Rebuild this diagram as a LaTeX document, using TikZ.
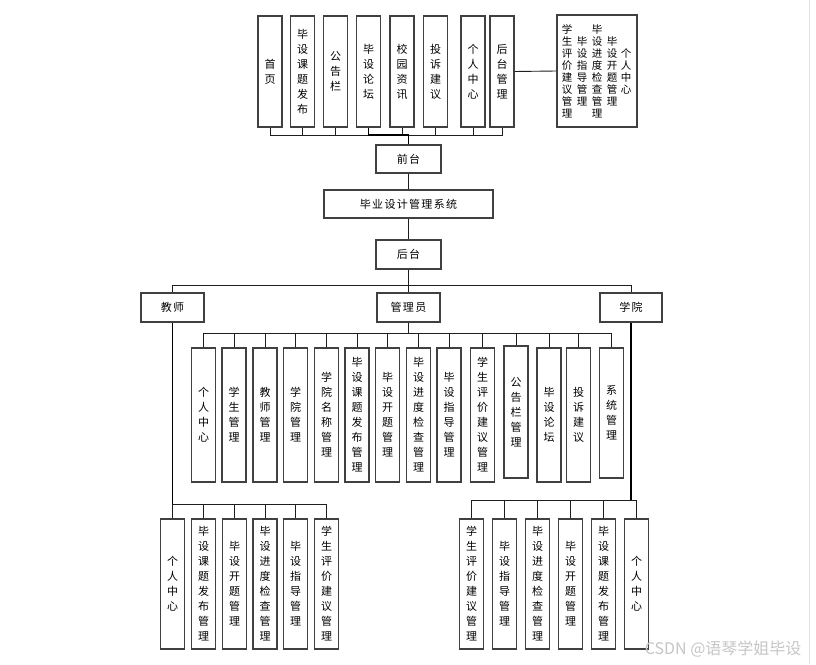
\documentclass[tikz,border=0pt]{standalone}
\usepackage{fontspec}
\setmainfont{Noto Sans CJK SC}
\usepackage{tikz}
\usetikzlibrary{positioning, calc}
\definecolor{boxLine}{HTML}{404040}
\definecolor{linkLine}{HTML}{1E1E1E}
\definecolor{markGray}{HTML}{C6C6C6}
\definecolor{edgeGray}{HTML}{E2E2E2}

\begin{document}
\begin{tikzpicture}[x=1pt, y=-1pt,
    box/.style={draw=boxLine, fill=white, line width=1.1pt, inner sep=0pt, minimum width=24pt},
    hbox/.style={box, minimum height=29pt, font=\fontsize{11}{13}\selectfont\addfontfeature{LetterSpace=12}},
    vbox/.style={box, align=center, font=\fontsize{11}{15}\selectfont},
    topbox/.style={vbox, minimum height=111pt},
    midbox/.style={vbox, minimum height=134pt},
    lowbox/.style={vbox, minimum height=130pt},
    subcol/.style={align=center, inner sep=0pt, font=\fontsize{10.5}{12}\selectfont},
    link/.style={draw=linkLine, line width=0.9pt},
    trunk/.style={draw=black, line width=1.6pt}]
  \fill[white] (0,0) rectangle (816,664);
  \useasboundingbox (0,0) rectangle (816,664);
  \draw[edgeGray, line width=0.8pt] (809,0) -- (809,664);

  % front end pages
  \node[topbox] (fHome) at (270, 71.5) {首\\页};
  \node[topbox] (fTopic) at (302.5, 71.5) {毕\\设\\课\\题\\发\\布};
  \node[topbox] (fNotice) at (335.5, 71.5) {公\\告\\栏};
  \node[topbox] (fForum) at (368.5, 71.5) {毕\\设\\论\\坛};
  \node[topbox] (fNews) at (402, 71.5) {校\\园\\资\\讯};
  \node[topbox] (fComplain) at (435.5, 71.5) {投\\诉\\建\\议};
  \node[topbox] (fUser) at (473, 71.5) {个\\人\\中\\心};
  \node[topbox] (fBack) at (502, 71.5) {后\\台\\管\\理};
  \node[box, minimum width=80pt, minimum height=112pt] (fBackSub) at (597, 71) {};
  \node[subcol] (sEval) at ([xshift=-30pt]fBackSub.center) {学\\生\\评\\价\\建\\议\\管\\理};
  \node[subcol] (sGuide) at ([xshift=-15pt]fBackSub.center) {毕\\设\\指\\导\\管\\理};
  \node[subcol] (sProgress) at (fBackSub.center) {毕\\设\\进\\度\\检\\查\\管\\理};
  \node[subcol] (sOpen) at ([xshift=15pt]fBackSub.center) {毕\\设\\开\\题\\管\\理};
  \node[subcol] (sUser) at ([xshift=29pt]fBackSub.center) {个\\人\\中\\心};

  % system core
  \node[hbox, minimum width=65pt, minimum height=28pt] (front) at (408.5, 159) {前台};
  \node[hbox, minimum width=169pt, minimum height=28pt] (sys) at (408.5, 204) {毕业设计管理系统};
  \node[hbox, minimum width=65pt] (back) at (408.5, 254.5) {后台};
  \node[hbox, minimum width=63pt] (teacher) at (172.5, 307.5) {教师};
  \node[hbox, minimum width=63pt] (admin) at (408.5, 307.5) {管理员};
  \node[hbox, minimum width=62pt] (college) at (631, 307.5) {学院};

  % admin modules
  \node[midbox] (aUser) at (203.5, 415) {个\\人\\中\\心};
  \node[midbox] (aStudent) at (234, 415) {学\\生\\管\\理};
  \node[midbox] (aTeacher) at (265, 415) {教\\师\\管\\理};
  \node[midbox] (aCollege) at (295.5, 415) {学\\院\\管\\理};
  \node[midbox] (aCollegeName) at (326.5, 415) {学\\院\\名\\称\\管\\理};
  \node[midbox] (aTopic) at (357, 415) {毕\\设\\课\\题\\发\\布\\管\\理};
  \node[midbox] (aOpen) at (387.5, 415) {毕\\设\\开\\题\\管\\理};
  \node[midbox] (aProgress) at (418.5, 415) {毕\\设\\进\\度\\检\\查\\管\\理};
  \node[midbox] (aGuide) at (449, 415) {毕\\设\\指\\导\\管\\理};
  \node[midbox] (aEval) at (482.5, 415) {学\\生\\评\\价\\建\\议\\管\\理};
  \node[vbox, minimum height=132pt] (aNotice) at (516, 412) {公\\告\\栏\\管\\理};
  \node[midbox] (aForum) at (549, 415) {毕\\设\\论\\坛};
  \node[midbox] (aComplain) at (578.5, 415) {投\\诉\\建\\议};
  \node[vbox, minimum height=130pt] (aSystem) at (611.5, 413) {系\\统\\管\\理};

  % teacher modules
  \node[lowbox] (tUser) at (172.5, 584) {个\\人\\中\\心};
  \node[lowbox] (tTopic) at (203.5, 584) {毕\\设\\课\\题\\发\\布\\管\\理};
  \node[lowbox] (tOpen) at (234.5, 584) {毕\\设\\开\\题\\管\\理};
  \node[lowbox] (tProgress) at (265, 584) {毕\\设\\进\\度\\检\\查\\管\\理};
  \node[lowbox] (tGuide) at (295.5, 584) {毕\\设\\指\\导\\管\\理};
  \node[lowbox] (tEval) at (326.5, 584) {学\\生\\评\\价\\建\\议\\管\\理};

  % college modules
  \node[lowbox] (cEval) at (471.5, 584) {学\\生\\评\\价\\建\\议\\管\\理};
  \node[lowbox] (cGuide) at (504.5, 584) {毕\\设\\指\\导\\管\\理};
  \node[lowbox] (cProgress) at (537.5, 584) {毕\\设\\进\\度\\检\\查\\管\\理};
  \node[lowbox] (cOpen) at (570.5, 584) {毕\\设\\开\\题\\管\\理};
  \node[lowbox] (cTopic) at (603.5, 584) {毕\\设\\课\\题\\发\\布\\管\\理};
  \node[lowbox] (cUser) at (636.5, 584) {个\\人\\中\\心};

  \node[text=markGray, font=\fontsize{16}{18}\selectfont, anchor=east] (mark) at (805, 649) {CSDN @语琴学姐毕设};

  % connectors
  \coordinate (busTop) at (408.5, 135);
  \draw[link] (fHome.south) |- (busTop) (fTopic.south) |- (busTop) (fNotice.south) |- (busTop)
    (fNews.south) |- (busTop) (fComplain.south) |- (busTop) (fUser.south) |- (busTop) (fBack.south) |- (busTop);
  \draw[trunk] (fForum.south) |- (busTop) -- (front.north);
  \draw[link] (fBack.east) -- (fBackSub.west);
  \draw[link] (front.south) -- (sys.north);
  \draw[link] (sys.south) -- (back.north);

  \coordinate (busBack) at (408.5, 285.5);
  \draw[link] (back.south) -- (busBack) (busBack) -| (teacher.north) (busBack) -- (admin.north)
    (busBack) -| (college.north);

  \coordinate (busAdmin) at (408.5, 333);
  \draw[link] (admin.south) -- (busAdmin);
  \draw[link] (aUser.north) |- (busAdmin) (aStudent.north) |- (busAdmin) (aTeacher.north) |- (busAdmin)
    (aCollege.north) |- (busAdmin) (aCollegeName.north) |- (busAdmin) (aTopic.north) |- (busAdmin)
    (aOpen.north) |- (busAdmin) (aProgress.north) |- (busAdmin) (aGuide.north) |- (busAdmin)
    (aEval.north) |- (busAdmin) (aNotice.north) |- (busAdmin) (aForum.north) |- (busAdmin)
    (aComplain.north) |- (busAdmin) (aSystem.north) |- (busAdmin);

  \coordinate (busTeacher) at (172.5, 504);
  \draw[trunk] (teacher.south) -- (busTeacher);
  \draw[link] (tUser.north) |- (busTeacher) (tTopic.north) |- (busTeacher) (tOpen.north) |- (busTeacher)
    (tProgress.north) |- (busTeacher) (tGuide.north) |- (busTeacher) (tEval.north) |- (busTeacher);

  \coordinate (busCollege) at (631, 500);
  \draw[trunk] (college.south) -- (busCollege);
  \draw[link] (cEval.north) |- (busCollege) (cGuide.north) |- (busCollege) (cProgress.north) |- (busCollege)
    (cOpen.north) |- (busCollege) (cTopic.north) |- (busCollege) (cUser.north) |- (busCollege);
\end{tikzpicture}
\end{document}
